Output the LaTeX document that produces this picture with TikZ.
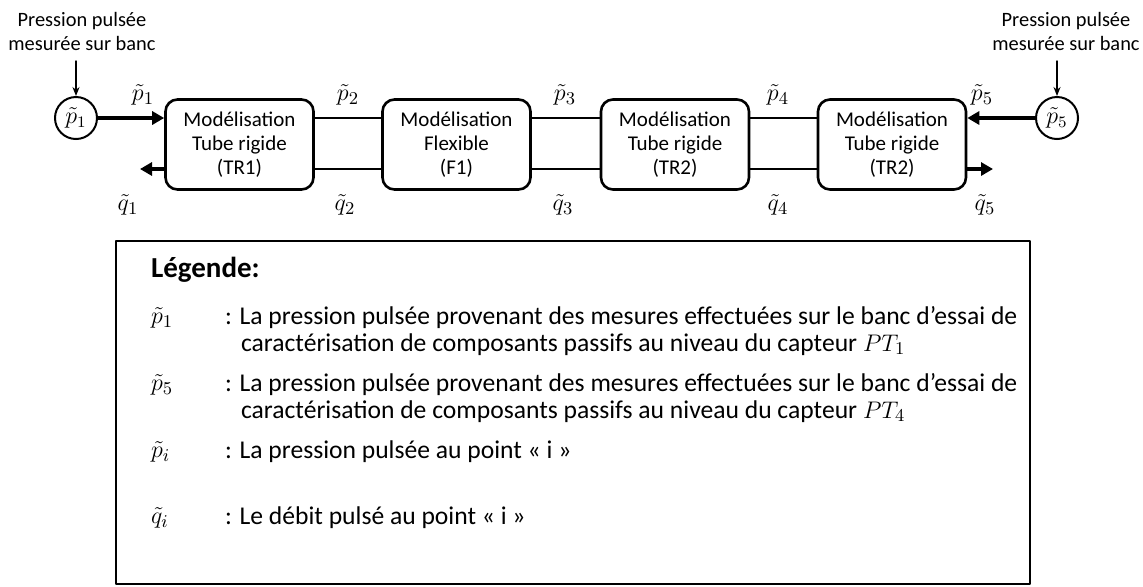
\documentclass[tikz,border=0pt]{standalone}
\usepackage{fontspec}
\setmainfont{Carlito}
\usetikzlibrary{arrows.meta, positioning, calc}

\tikzset{
  modbox/.style={draw, line width=1.3pt, rounded corners=6pt, minimum width=74pt, minimum height=45pt, align=center, font=\fontsize{10.5}{12}\selectfont},
  capteur/.style={draw, circle, line width=1pt, minimum size=21pt, inner sep=0pt, font=\fontsize{12}{14}\selectfont},
  liaison/.style={line width=1.2pt},
  fleche/.style={line width=1.6pt, -{Triangle[length=6pt,width=6.5pt]}},
  mesure/.style={line width=0.7pt, -{Stealth[length=4.5pt,width=3.5pt]}},
  grandeur/.style={font=\fontsize{12.5}{14}\selectfont},
  legtext/.style={anchor=base west, align=left, font=\fontsize{12.8}{13.5}\selectfont},
}

\begin{document}
\begin{tikzpicture}[x=0.5pt, y=-0.5pt, line cap=round, line join=round]
  \useasboundingbox (0,0) rectangle (1143,586);

  % Blocs de modelisation
  \node[modbox] (tr1) at (239.5,144.5) {Modélisation\\Tube rigide\\(TR1)};
  \node[modbox] (f1) at (456.5,144.5) {Modélisation\\Flexible\\(F1)};
  \node[modbox] (tr2) at (675,144.5) {Modélisation\\Tube rigide\\(TR2)};
  \node[modbox] (tr2b) at (892,144.5) {Modélisation\\Tube rigide\\(TR2)};

  % Capteurs
  \node[capteur] (c1) at (76,118) {$\tilde{p}_1$};
  \node[capteur] (c5) at (1057,118) {$\tilde{p}_5$};
  \node[align=center, font=\fontsize{10.2}{12}\selectfont] (src1) at (82,31) {Pression pulsée\\mesurée sur banc};
  \node[align=center, font=\fontsize{10.2}{12}\selectfont] (src5) at (1066,31) {Pression pulsée\\mesurée sur banc};
  \coordinate (m1) at (76,61);
  \coordinate (m5) at (1057,61);
  \draw[mesure] (m1) -- (c1);
  \draw[mesure] (m5) -- (c5);

  % Liaisons entre blocs
  \foreach \a/\b in {tr1/f1, f1/tr2, tr2/tr2b} {
    \draw[liaison] ([yshift=13.25pt]\a.east) -- ([yshift=13.25pt]\b.west);
    \draw[liaison] ([yshift=-12.25pt]\a.east) -- ([yshift=-12.25pt]\b.west);
  }

  % Entrees / sorties
  \coordinate (q1fin) at (140,169);
  \coordinate (q5fin) at (993,169);
  \draw[fleche] (c1) -- ([yshift=13.25pt]tr1.west);
  \draw[fleche] (c5) -- ([yshift=13.25pt]tr2b.east);
  \draw[fleche] ([yshift=-12.25pt]tr1.west) -- (q1fin);
  \draw[fleche] ([yshift=-12.25pt]tr2b.east) -- (q5fin);

  % Grandeurs
  \foreach \i/\x in {1/143, 2/348, 3/565, 4/778, 5/982}
    \node[grandeur] (p\i) at (\x,95) {$\tilde{p}_{\i}$};
  \foreach \i/\x in {1/128, 2/345, 3/563, 4/778, 5/985}
    \node[grandeur] (q\i) at (\x,205) {$\tilde{q}_{\i}$};

  % Legende
  \draw[line width=1pt] (116,241) rectangle (1030,584);
  \node[anchor=west, font=\fontsize{14.5}{16}\bfseries] (titre) at (144,270) {Légende:};
  \node[anchor=west, grandeur] (s1) at (144,318) {$\tilde{p}_1$};
  \node[anchor=west, grandeur] (s5) at (144,385) {$\tilde{p}_5$};
  \node[anchor=west, grandeur] (si) at (144,452) {$\tilde{p}_i$};
  \node[anchor=west, grandeur] (sq) at (144,518) {$\tilde{q}_i$};
  \node[legtext] (t1) at (218,351) {: La pression pulsée provenant des mesures effectuées sur le banc d’essai de\\\hspace{8pt}caractérisation de composants passifs au niveau du capteur $PT_1$};
  \node[legtext] (t5) at (218,418) {: La pression pulsée provenant des mesures effectuées sur le banc d’essai de\\\hspace{8pt}caractérisation de composants passifs au niveau du capteur $PT_4$};
  \node[legtext] (ti) at (218,458) {: La pression pulsée au point « i »};
  \node[legtext] (tq) at (218,524) {: Le débit pulsé au point « i »};
\end{tikzpicture}
\end{document}
